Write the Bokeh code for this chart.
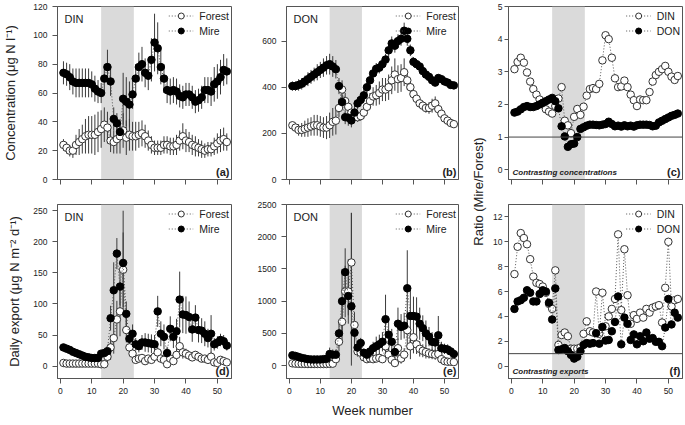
import numpy as np
from bokeh.plotting import figure
from bokeh.layouts import row, column
from bokeh.models import Range1d, BoxAnnotation, Span, Label, Legend, LegendItem, FixedTicker
from bokeh.embed import file_html
from bokeh.resources import INLINE

weeks = list(range(1, 54))

# (a) DIN concentration (ug N/l)
a_forest = [24,22,20,20,24,26,28,30,31,31,31,33,35,38,36,27,26,28,30,34,29,31,30,30,31,32,30,27,24,22,22,22,24,24,23,23,24,27,30,27,26,24,23,22,21,20,21,21,23,25,27,28,26]
a_forest_err = [4,4,4,5,7,9,10,12,13,13,14,14,13,12,11,8,8,10,12,12,12,11,10,10,9,9,8,7,6,5,5,5,6,6,6,6,7,7,9,8,7,7,7,6,6,5,5,5,6,7,8,8,6]
a_mire = [74,73,71,68,67,67,67,67,67,66,63,61,60,70,78,68,42,39,33,56,54,52,59,70,78,80,74,72,83,95,91,78,70,62,61,62,61,58,57,59,59,57,54,55,57,62,62,61,66,68,71,76,75]
a_mire_err = [8,8,9,9,10,10,10,10,10,9,9,8,7,10,12,10,8,7,6,18,17,16,10,10,10,12,10,10,15,20,18,12,10,9,9,9,9,8,8,8,8,8,8,8,8,9,9,10,12,12,12,11,9]

# (b) DON concentration
b_forest = [235,225,215,215,220,225,230,235,235,230,225,225,235,250,255,310,390,340,315,290,275,270,275,290,315,340,360,365,375,390,390,400,430,455,435,440,465,430,400,370,350,330,320,310,310,320,330,305,285,265,255,245,240]
b_forest_err = [15,20,25,30,35,40,40,45,45,45,45,50,55,60,60,40,40,35,30,25,20,20,20,25,30,35,40,45,50,50,50,55,60,70,60,60,60,40,30,25,20,20,20,20,25,30,30,20,15,15,15,10,10]
b_mire = [405,405,410,415,425,435,445,455,465,475,485,495,500,490,478,405,336,270,268,256,290,330,345,365,400,430,460,480,485,500,520,560,590,580,600,610,645,610,560,510,500,490,470,455,445,430,420,440,435,425,420,410,408]
b_mire_err = [20,20,25,25,25,30,30,30,35,35,40,40,45,45,40,35,30,30,35,30,30,25,25,25,25,25,25,25,25,25,25,30,30,30,30,30,35,30,25,20,15,15,15,15,15,15,15,15,15,15,15,15,15]

# (c) concentration ratio Mire/Forest
c_din = [3.08,3.3,3.43,3.28,2.98,2.7,2.47,2.3,2.15,2.0,1.85,1.78,1.72,1.95,2.18,2.53,1.5,1.36,1.12,1.62,1.86,1.68,1.93,2.27,2.47,2.5,2.47,2.63,3.35,4.12,4.0,3.43,2.8,2.53,2.55,2.73,2.53,2.3,2.13,1.95,2.15,2.13,2.13,2.38,2.7,2.9,3.0,3.08,3.18,3.0,2.85,2.75,2.87]
c_don = [1.75,1.78,1.85,1.92,1.95,1.92,1.92,1.95,2.0,2.05,2.1,2.15,2.2,2.1,1.88,1.33,1.02,0.7,0.78,0.8,1.0,1.25,1.3,1.35,1.38,1.38,1.37,1.36,1.38,1.4,1.47,1.4,1.33,1.35,1.32,1.36,1.33,1.35,1.32,1.36,1.38,1.38,1.38,1.37,1.33,1.35,1.45,1.5,1.55,1.6,1.65,1.68,1.72]

# (d) DIN daily export (ug N m-2 d-1)
d_forest = [5,4,4,4,4,4,4,4,4,4,4,4,3,3,15,30,45,75,88,155,58,30,20,10,12,13,8,12,10,15,22,12,10,3,12,8,18,32,22,20,17,14,18,15,12,12,10,15,6,5,10,8,6]
d_forest_err = [1,1,1,1,1,1,1,1,1,1,1,1,1,2,10,20,25,30,40,60,20,10,8,5,5,5,5,5,5,5,10,5,5,3,8,5,10,15,10,8,7,6,6,6,5,5,5,8,3,3,4,4,3]
d_mire = [30,28,26,23,21,19,17,15,14,13,13,13,20,21,24,77,122,181,128,166,84,44,52,35,32,38,38,37,36,35,88,52,47,21,60,47,56,107,83,82,79,59,78,58,57,52,45,52,35,38,42,40,33]
d_mire_err = [3,3,3,2,2,2,2,2,2,2,2,2,5,6,8,20,45,25,30,84,20,10,15,10,10,12,15,15,15,15,25,20,20,10,20,18,20,45,30,30,25,20,20,20,20,20,15,30,10,10,10,10,8]

# (e) DON daily export
e_forest = [35,30,28,27,26,25,25,25,25,25,25,25,28,30,100,370,680,1150,1150,1600,630,220,200,130,100,110,100,110,120,100,300,170,90,40,270,110,170,550,300,440,330,260,230,210,190,180,170,180,100,70,60,60,55]
e_forest_err = [10,10,10,10,10,10,10,10,10,10,10,10,10,20,60,150,300,400,500,770,200,80,60,40,40,40,40,50,60,60,150,100,60,30,150,80,100,300,200,250,150,120,100,100,80,80,80,100,50,40,30,30,30]
e_mire = [160,150,135,120,110,100,95,95,95,95,100,105,180,170,170,500,1000,1450,1080,920,510,280,350,200,170,220,270,300,330,370,720,480,370,210,650,600,620,1200,770,770,760,650,580,500,450,370,360,470,270,260,250,220,180]
e_mire_err = [20,20,15,15,15,15,15,15,15,15,15,15,100,80,80,200,500,370,300,1450,250,100,80,60,60,80,100,150,150,150,380,250,200,100,250,200,200,590,400,300,300,250,200,200,150,150,150,300,100,80,80,60,50]

# (f) export ratio Mire/Forest
f_din = [7.4,9.6,10.7,10.3,9.8,8.6,7.2,6.7,6.6,6.4,5.9,5.0,4.6,7.7,1.7,2.5,2.7,2.4,1.4,1.4,1.4,1.5,2.6,3.6,2.8,2.7,6.0,2.6,5.9,3.2,4.0,4.6,5.4,10.6,4.5,9.4,5.7,3.4,4.1,3.8,4.3,3.9,4.6,4.3,4.7,4.8,4.9,3.5,6.3,10.0,4.8,5.3,5.4]
f_don = [4.6,5.2,5.3,5.5,6.1,5.9,5.2,5.2,5.8,6.1,6.0,5.1,3.75,6.25,1.3,1.35,1.45,1.2,0.9,0.6,0.75,1.2,1.7,1.85,1.8,1.85,2.65,1.8,3.15,2.05,2.1,2.8,3.55,5.6,1.75,3.9,3.4,2.1,2.55,1.75,2.4,2.0,2.7,2.2,2.25,1.95,1.95,1.6,3.1,5.4,3.35,4.3,3.9]

x_ticks = [0, 10, 20, 30, 40, 50]
shade_weeks = (13.0, 23.4)

FONT = "Liberation Sans"
GRAY = "#555555"
X_RANGE = (-0.9, 54.5)


def panel(width, height, bl, br, bt, bb, yr, yticks, xlabels, ystand=5, ytick=5):
    p = figure(width=width, height=height, x_range=Range1d(*X_RANGE), y_range=Range1d(*yr),
               output_backend="svg", toolbar_location=None,
               min_border_left=bl, min_border_right=br, min_border_top=bt, min_border_bottom=bb)
    p.grid.visible = False
    p.outline_line_color = GRAY
    p.outline_line_width = 1
    p.background_fill_color = "white"
    p.border_fill_color = "white"
    p.add_layout(BoxAnnotation(left=shade_weeks[0], right=shade_weeks[1], fill_color="#dadada",
                               fill_alpha=1, line_color=None, level="underlay"))
    p.xaxis.ticker = FixedTicker(ticks=x_ticks)
    p.yaxis.ticker = FixedTicker(ticks=yticks)
    if not xlabels:
        p.xaxis.major_label_overrides = {t: "" for t in x_ticks}
    for ax in (p.xaxis[0], p.yaxis[0]):
        ax.axis_line_color = GRAY
        ax.major_tick_line_color = GRAY
        ax.major_tick_in = 0
        ax.minor_tick_line_color = None
        ax.major_label_text_font = FONT
        ax.major_label_text_font_size = "8.5px"
        ax.major_label_text_color = "#222222"
        ax.axis_label_text_font = FONT
        ax.axis_label_text_font_size = "13px"
        ax.axis_label_text_font_style = "normal"
        ax.axis_label_text_color = "#222222"
    p.xaxis.major_tick_out = 5
    p.xaxis.major_label_standoff = 4
    p.yaxis.major_tick_out = ytick
    p.yaxis.major_label_standoff = ystand
    return p


def draw(p, y_open, y_fill, err_open, err_fill, lab_open, lab_fill, clip0=False):
    y1 = np.array(y_open, float)
    y2 = np.array(y_fill, float)
    for y, e in ((y1, err_open), (y2, err_fill)):
        if e is not None:
            e = np.array(e, float)
            lo = y - e
            if clip0:
                lo = np.maximum(lo, 0)
            p.segment(weeks, lo, weeks, y + e, line_color="#3a3a3a", line_width=1)
    l1 = p.line(weeks, y1, line_color=GRAY, line_dash="1 2", line_width=1)
    s1 = p.scatter(weeks, y1, size=7.5, marker="circle", fill_color="white", line_color="#333333", line_width=1)
    l2 = p.line(weeks, y2, line_color=GRAY, line_dash="1 2", line_width=1)
    s2 = p.scatter(weeks, y2, size=7.5, marker="circle", fill_color="black", line_color="black", line_width=1)
    leg = Legend(items=[LegendItem(label=lab_open, renderers=[l1, s1]),
                        LegendItem(label=lab_fill, renderers=[l2, s2])],
                 location="top_right", background_fill_alpha=0, border_line_color=None,
                 label_text_font=FONT, label_text_font_size="10.5px", label_text_color="#222222",
                 glyph_width=25, glyph_height=15, label_height=14, label_standoff=6,
                 spacing=0, padding=0, margin=2)
    p.add_layout(leg)


def tag(p, name, letter, yr, note=None):
    p.add_layout(Label(x=X_RANGE[0], y=yr[1], x_offset=7, y_offset=-6, text=name,
                       text_baseline="top", text_font=FONT, text_font_size="11px", text_color="#222222"))
    p.add_layout(Label(x=X_RANGE[1], y=yr[0], x_offset=-2, y_offset=2, text=letter,
                       text_align="right", text_baseline="bottom", text_font=FONT,
                       text_font_size="11px", text_font_style="bold", text_color="#222222"))
    if note:
        p.add_layout(Label(x=X_RANGE[0], y=yr[0], x_offset=4, y_offset=3, text=note,
                           text_baseline="bottom", text_font=FONT, text_font_size="8px",
                           text_font_style="bold italic", text_color="#222222"))


H1, H2 = 191, 234
W1, W2, WR, W3 = 254, 212, 22, 197

ya, yb, yc = (0, 120), (0, 750), (-0.3, 5)
yd, ye, yf = (-20, 260), (-200, 2500), (-1, 13)

fa = panel(W1, H1, 56, 23, 6, 12, ya, [0, 20, 40, 60, 80, 100, 120], False)
draw(fa, a_forest, a_mire, a_forest_err, a_mire_err, "Forest", "Mire")
tag(fa, "DIN", "(a)", ya)
fa.yaxis.axis_label = "Concentration (μg N l⁻¹)"
fa.yaxis.axis_label_standoff = 12

fb = panel(W2, H1, 28, 8, 6, 12, yb, [0, 200, 400, 600], False)
draw(fb, b_forest, b_mire, b_forest_err, b_mire_err, "Forest", "Mire")
tag(fb, "DON", "(b)", yb)

fc = panel(W3, H1, 20, 3, 6, 12, yc, [0, 1, 2, 3, 4, 5], False, ystand=2, ytick=4)
fc.add_layout(Span(location=1, dimension="width", line_color="#444444", line_width=1))
draw(fc, c_din, c_don, None, None, "DIN", "DON")
tag(fc, "", "(c)", yc, "Contrasting concentrations")

fd = panel(W1, H2, 56, 23, 13, 47, yd, [0, 50, 100, 150, 200, 250], True)
draw(fd, d_forest, d_mire, d_forest_err, d_mire_err, "Forest", "Mire", clip0=True)
tag(fd, "DIN", "(d)", yd)
fd.yaxis.axis_label = "Daily export (μg N m⁻² d⁻¹)"
fd.yaxis.axis_label_standoff = 8

fe = panel(W2, H2, 28, 8, 13, 47, ye, [0, 500, 1000, 1500, 2000, 2500], True)
draw(fe, e_forest, e_mire, e_forest_err, e_mire_err, "Forest", "Mire", clip0=True)
tag(fe, "DON", "(e)", ye)
fe.xaxis.axis_label = "Week number"
fe.xaxis.axis_label_standoff = 6

ff = panel(W3, H2, 20, 3, 13, 47, yf, [0, 2, 4, 6, 8, 10, 12], True, ystand=2, ytick=4)
ff.add_layout(Span(location=1, dimension="width", line_color="#444444", line_width=1))
draw(ff, f_din, f_don, None, None, "DIN", "DON")
tag(ff, "", "(f)", yf, "Contrasting exports")

# shared y label for the ratio panels
fr = figure(width=WR, height=H1 + H2, x_range=Range1d(0, WR), y_range=Range1d(0, H1 + H2),
            output_backend="svg", toolbar_location=None, x_axis_location=None, y_axis_location=None,
            min_border_left=0, min_border_right=0, min_border_top=0, min_border_bottom=0)
fr.grid.visible = False
fr.outline_line_color = None
fr.border_fill_color = "white"
fr.background_fill_color = "white"
fr.add_layout(Label(x=12, y=H1 + H2 - 191, text="Ratio (Mire/Forest)", angle=np.pi / 2,
                    text_align="center", text_baseline="middle", text_font=FONT,
                    text_font_size="13px", text_color="#222222"))

layout = row(column(fa, fd, spacing=0), column(fb, fe, spacing=0), fr, column(fc, ff, spacing=0), spacing=0)

open("out.html", "w").write(file_html(layout, INLINE))
